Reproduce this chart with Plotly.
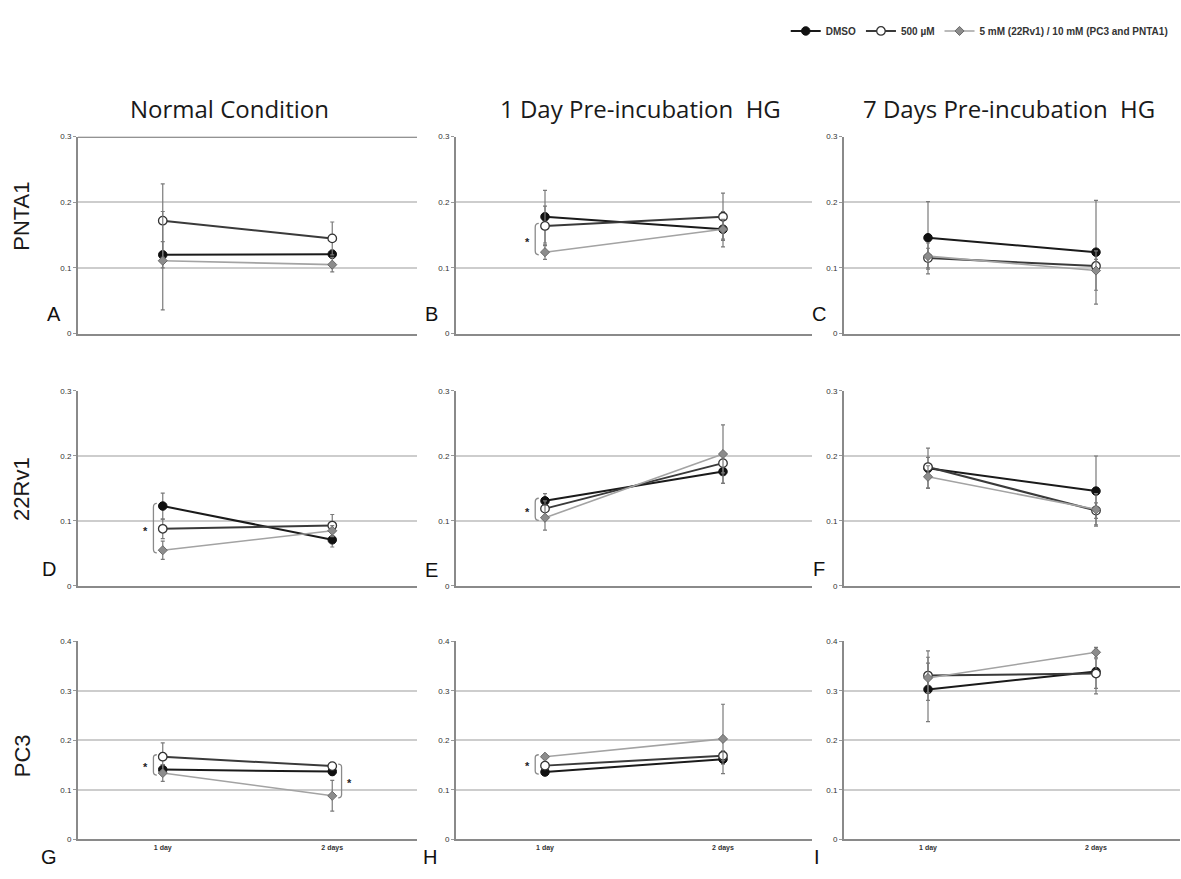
import plotly.graph_objects as go

# ---- data -------------------------------------------------------------
DAYS = ["1 day", "2 days"]
CONDITIONS = ["Normal Condition", "1 Day Pre-incubation  HG", "7 Days Pre-incubation  HG"]
CELL_LINES = ["PNTA1", "22Rv1", "PC3"]
PANEL_LETTERS = ["A", "B", "C", "D", "E", "F", "G", "H", "I"]
SERIES_NAMES = ["DMSO", "500 µM", "5 mM (22Rv1) / 10 mM (PC3 and PNTA1)"]

# mean values, one [1 day, 2 days] pair per panel A..I
DMSO_MEAN = [[0.120, 0.121], [0.178, 0.159], [0.146, 0.124],
             [0.123, 0.071], [0.131, 0.176], [0.181, 0.146],
             [0.141, 0.137], [0.136, 0.162], [0.303, 0.339]]
DMSO_ERR = [[0.020, 0.006], [0.040, 0.027], [0.055, 0.079],
            [0.020, 0.011], [0.011, 0.018], [0.031, 0.054],
            [0.010, 0.008], [0.005, 0.010], [0.065, 0.045]]

LOW_MEAN = [[0.172, 0.145], [0.164, 0.178], [0.115, 0.103],
            [0.088, 0.093], [0.119, 0.189], [0.183, 0.116],
            [0.167, 0.148], [0.149, 0.169], [0.331, 0.335]]
LOW_ERR = [[0.056, 0.025], [0.030, 0.036], [0.015, 0.010],
           [0.015, 0.017], [0.012, 0.015], [0.015, 0.012],
           [0.028, 0.006], [0.005, 0.010], [0.050, 0.030]]

HIGH_MEAN = [[0.111, 0.105], [0.124, 0.159], [0.118, 0.096],
             [0.055, 0.085], [0.105, 0.203], [0.168, 0.118],
             [0.134, 0.088], [0.167, 0.203], [0.326, 0.378]]
HIGH_ERR = [[0.075, 0.011], [0.011, 0.015], [0.020, 0.030],
            [0.014, 0.008], [0.019, 0.045], [0.017, 0.024],
            [0.017, 0.031], [0.004, 0.070], [0.030, 0.010]]

Y_MAX = [0.3, 0.3, 0.4]  # per row

# significance brackets: (panel index, day index, series a, series b, side)
SIGNIFICANCE = [(1, 0, 1, 2, "left"), (3, 0, 0, 2, "left"), (4, 0, 0, 2, "left"),
                (6, 0, 1, 2, "left"), (6, 1, 1, 2, "right"), (7, 0, 2, 0, "left")]

# ---- layout geometry (pixels of a 1181 x 879 canvas) -------------------
W, H = 1181, 879
COL_PX = [(78, 417), (456, 812), (844, 1180)]
ROW_PX = [(134, 333), (391, 588), (644, 844)]
COL_TITLE_X = [229, 640, 1009]
ROW_TITLE_Y = [215, 490, 760]
LETTER_PX = [(54, 313), (431, 313), (819, 313),
             (49, 571), (431, 572), (819, 571),
             (49, 862), (430, 862), (817, 862)]

STYLES = [
    dict(line=dict(color="#1a1a1a", width=2),
         marker=dict(symbol="circle", size=8.5, color="#111111",
                     line=dict(color="#111111", width=1))),
    dict(line=dict(color="#3a3a3a", width=2),
         marker=dict(symbol="circle", size=8.5, color="#ffffff",
                     line=dict(color="#333333", width=1.3))),
    dict(line=dict(color="#a3a3a3", width=1.6),
         marker=dict(symbol="diamond", size=7, color="#8c8c8c",
                     line=dict(color="#6a6a6a", width=1))),
]
MEANS = [DMSO_MEAN, LOW_MEAN, HIGH_MEAN]
ERRS = [DMSO_ERR, LOW_ERR, HIGH_ERR]

fig = go.Figure()
layout = dict(
    width=W, height=H, margin=dict(l=0, r=0, t=0, b=0),
    paper_bgcolor="white", plot_bgcolor="white",
    font=dict(family="Liberation Sans, Arial", color="#222"),
    showlegend=True,
    legend=dict(orientation="h", x=0.993, xanchor="right", y=0.969, yanchor="middle",
                font=dict(size=10, color="#333", weight="bold"),
                itemwidth=30, tracegroupgap=0, bgcolor="rgba(0,0,0,0)"),
)
annotations = []
shapes = []
xs = list(range(len(DAYS)))

for p in range(9):
    r, c = divmod(p, 3)
    ax_id = "" if p == 0 else str(p + 1)
    x0, x1 = COL_PX[c]
    yt, yb = ROW_PX[r]
    layout["xaxis" + ax_id] = dict(
        domain=[x0 / W, x1 / W], anchor="y" + ax_id, range=[-0.5, 1.5],
        tickvals=xs, ticktext=DAYS, showticklabels=(r == 2),
        tickfont=dict(size=7, color="#333", weight="bold"),
        showline=True, linecolor="#8a8a8a", linewidth=2,
        showgrid=False, zeroline=False, ticks="", fixedrange=True,
    )
    layout["yaxis" + ax_id] = dict(
        domain=[1 - yb / H, 1 - yt / H], anchor="x" + ax_id,
        range=[0, Y_MAX[r]], dtick=0.1,
        tickfont=dict(size=8, color="#333"),
        showline=True, linecolor="#8a8a8a", linewidth=2,
        showgrid=True, gridcolor="#cdcdcd", gridwidth=1.5,
        zeroline=False, ticks="outside", ticklen=3, tickcolor="#999",
        fixedrange=True,
    )
    for s in range(3):
        fig.add_trace(go.Scatter(
            x=xs, y=MEANS[s][p], mode="lines+markers",
            name=SERIES_NAMES[s], legendgroup=SERIES_NAMES[s],
            showlegend=(p == 0),
            xaxis="x" + ax_id, yaxis="y" + ax_id,
            error_y=dict(type="data", array=ERRS[s][p], color="#7a7a7a",
                         thickness=1.2, width=2),
            **STYLES[s],
        ))
    lx, ly = LETTER_PX[p]
    annotations.append(dict(text=PANEL_LETTERS[p], x=lx / W, y=1 - ly / H,
                            xref="paper", yref="paper", showarrow=False,
                            xanchor="center", yanchor="middle",
                            font=dict(size=20, color="#111", family="Liberation Sans, Arial")))

# darker top border on the first panel
shapes.append(dict(type="line", xref="x domain", yref="y", x0=0, x1=1, y0=0.3, y1=0.3,
                   line=dict(color="#6f6f6f", width=2.2)))

# significance brackets with asterisks
for p, d, a, b, side in SIGNIFICANCE:
    ax_id = "" if p == 0 else str(p + 1)
    ya, yb_ = MEANS[a][p][d], MEANS[b][p][d]
    top, bot = max(ya, yb_) + 0.004, min(ya, yb_) - 0.004
    sign = -1 if side == "left" else 1
    xb = d + sign * 0.055
    w = 0.02 * -sign
    rr = 0.006
    path = (f"M {xb + w},{top} Q {xb},{top} {xb},{top - rr} "
            f"L {xb},{bot + rr} Q {xb},{bot} {xb + w},{bot}")
    shapes.append(dict(type="path", path=path, xref="x" + ax_id, yref="y" + ax_id,
                       line=dict(color="#8a8a8a", width=1.3)))
    annotations.append(dict(text="*", x=d + sign * 0.1, y=(top + bot) / 2 - 0.004,
                            xref="x" + ax_id, yref="y" + ax_id, showarrow=False,
                            font=dict(size=11, color="#222", weight="bold")))

for c, title in enumerate(CONDITIONS):
    annotations.append(dict(text=title, x=COL_TITLE_X[c] / W, y=1 - 106 / H,
                            xref="paper", yref="paper", showarrow=False,
                            xanchor="center", yanchor="middle",
                            font=dict(size=24, color="#1a1a1a", family="Open Sans")))
for r, name in enumerate(CELL_LINES):
    annotations.append(dict(text=name, x=22 / W, y=1 - ROW_TITLE_Y[r] / H,
                            xref="paper", yref="paper", showarrow=False, textangle=-90,
                            xanchor="center", yanchor="middle",
                            font=dict(size=22, color="#1a1a1a", family="Liberation Sans, Arial")))

layout["annotations"] = annotations
layout["shapes"] = shapes
fig.update_layout(**layout)
fig.write_html("out.html")
